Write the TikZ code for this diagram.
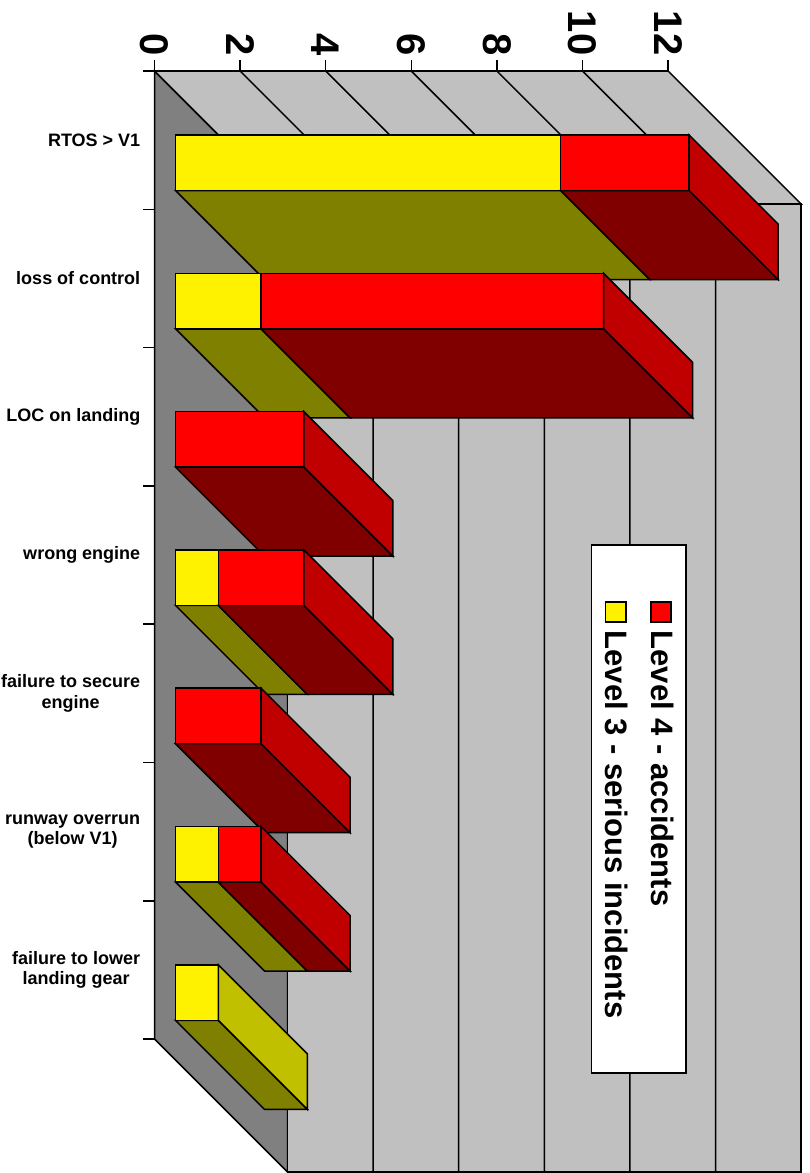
\documentclass[tikz,border=0pt]{standalone}
\usepackage{fontspec}
\setmainfont{Liberation Sans}

\definecolor{wallgray}{HTML}{C0C0C0}
\definecolor{floorgray}{HTML}{808080}
\definecolor{olivebar}{HTML}{808000}
\definecolor{darkredbar}{HTML}{800000}
\definecolor{endred}{HTML}{C00000}
\definecolor{endyellow}{HTML}{C0C000}

% kusok stolbika: kategoriya, ot, do, cvet fronta, cvet niza
\newcommand{\barseg}[5]{%
  \pgfmathsetmacro{\segxa}{175.5+42.8*#2}%
  \pgfmathsetmacro{\segxb}{175.5+42.8*#3}%
  \pgfmathsetmacro{\segyt}{135+138.3*#1}%
  \pgfmathsetmacro{\segyb}{\segyt+55.5}%
  \filldraw[fill=#5] (\segxa,\segyb) -- (\segxb,\segyb) -- ++(89,89) -- (\segxa+89,\segyb+89) -- cycle;
  \filldraw[fill=#4] (\segxa,\segyt) rectangle (\segxb,\segyb);
}
% torec stolbika
\newcommand{\barend}[3]{%
  \pgfmathsetmacro{\segxe}{175.5+42.8*#2}%
  \pgfmathsetmacro{\segyt}{135+138.3*#1}%
  \filldraw[fill=#3] (\segxe,\segyt) -- ++(89,89) -- ++(0,55.5) -- (\segxe,\segyt+55.5) -- cycle;
}

\begin{document}
\begin{tikzpicture}[
    x=1pt, y=-1pt, line width=1.5pt,
    wall/.style={draw, fill=wallgray},
    floorwall/.style={draw, fill=floorgray},
    cat/.style={anchor=east, align=center, inner sep=0pt, font=\fontsize{18}{20.5}\selectfont\bfseries},
    val/.style={anchor=east, rotate=-90, inner sep=0pt, font=\fontsize{40}{40}\selectfont\bfseries},
    leg/.style={anchor=base west, rotate=-90, inner sep=0pt, font=\fontsize{31}{31}\selectfont\bfseries}
]
\useasboundingbox (0,0) rectangle (809,1173);

% Рисуем стенки
\path[floorwall] (154.5,71) -- (287.5,204) -- (287.5,1172) -- (154.5,1039) -- cycle;
\path[wall] (154.5,71) -- (668.1,71) -- (801.1,204) -- (287.5,204) -- cycle;
\path[wall] (287.5,204) rectangle (801.1,1172);

% Рисуем сетку
\draw (240.1,71) -- (373.1,204) -- (373.1,1172);
\draw (325.7,71) -- (458.7,204) -- (458.7,1172);
\draw (411.3,71) -- (544.3,204) -- (544.3,1172);
\draw (496.9,71) -- (629.9,204) -- (629.9,1172);
\draw (582.5,71) -- (715.5,204) -- (715.5,1172);

% Рисуем оси
\draw (143,71) -- (668.1,71);
\draw (154.5,71) -- (154.5,1039);
\draw (154.5,60) -- (154.5,71) (240.1,60) -- (240.1,71) (325.7,60) -- (325.7,71)
      (411.3,60) -- (411.3,71) (496.9,60) -- (496.9,71) (582.5,60) -- (582.5,71)
      (668.1,60) -- (668.1,71);
\draw (143,209.3) -- (154.5,209.3) (143,347.6) -- (154.5,347.6) (143,485.9) -- (154.5,485.9)
      (143,624.2) -- (154.5,624.2) (143,762.5) -- (154.5,762.5) (143,900.8) -- (154.5,900.8)
      (143,1039) -- (154.5,1039);

\node[val] (v0) at (154.5,56) {0};
\node[val] (v2) at (240.1,56) {2};
\node[val] (v4) at (325.7,56) {4};
\node[val] (v6) at (411.3,56) {6};
\node[val] (v8) at (496.9,56) {8};
\node[val] (v10) at (582.5,56) {10};
\node[val] (v12) at (668.1,56) {12};

% Рисуем столбики
\barseg{0}{0}{9}{yellow}{olivebar}
\barseg{0}{9}{12}{red}{darkredbar}
\barend{0}{12}{endred}
\barseg{1}{0}{2}{yellow}{olivebar}
\barseg{1}{2}{10}{red}{darkredbar}
\barend{1}{10}{endred}
\barseg{2}{0}{3}{red}{darkredbar}
\barend{2}{3}{endred}
\barseg{3}{0}{1}{yellow}{olivebar}
\barseg{3}{1}{3}{red}{darkredbar}
\barend{3}{3}{endred}
\barseg{4}{0}{2}{red}{darkredbar}
\barend{4}{2}{endred}
\barseg{5}{0}{1}{yellow}{olivebar}
\barseg{5}{1}{2}{red}{darkredbar}
\barend{5}{2}{endred}
\barseg{6}{0}{1}{yellow}{olivebar}
\barend{6}{1}{endyellow}

% Подписи категорий
\node[cat] (rtos) at (141,140.2) {RTOS > V1};
\node[cat] (loss) at (141,278.5) {loss of control};
\node[cat] (loc) at (141,416.8) {LOC on landing};
\node[cat] (engine) at (141,555.1) {wrong engine};
\node[cat] (secure) at (141,693.4) {failure to secure\\engine};
\node[cat] (overrun) at (141,831.7) {runway overrun\\(below V1)};
\node[cat] (gear) at (141,970) {failure to lower\\landing gear};

% Легенда
\filldraw[fill=white] (591.7,545) rectangle (686,1073);
\filldraw[fill=red] (651,602) rectangle (671,622);
\filldraw[fill=yellow] (605.7,602) rectangle (626,622);
\node[leg] (lvl4) at (651,630) {Level 4 - accidents};
\node[leg] (lvl3) at (605.5,630) {Level 3 - serious incidents};

\end{tikzpicture}
\end{document}
